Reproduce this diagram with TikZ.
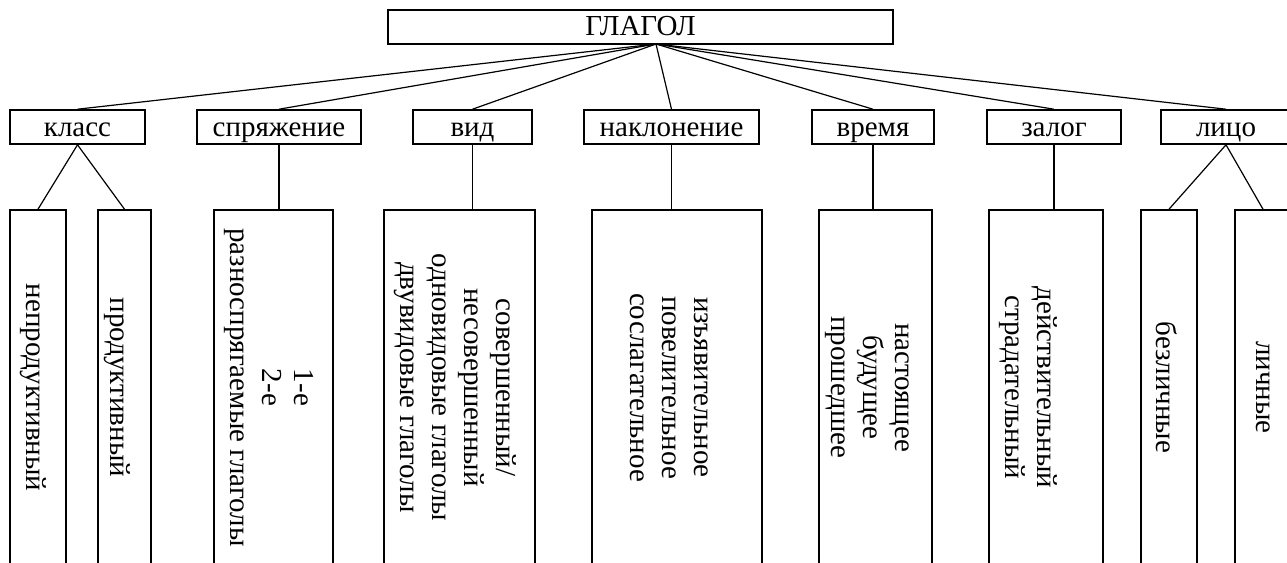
\documentclass[tikz,border=0pt]{standalone}
\usepackage{fontspec}
\setmainfont{Liberation Serif}
\usetikzlibrary{calc}

\begin{document}
\begin{tikzpicture}[
    x=0.5pt, y=-0.5pt,
    font=\fontsize{14.5}{16}\selectfont,
    root/.style={rectangle, draw, line width=0.8pt, minimum width=252.5pt, minimum height=17pt, inner sep=0pt, text height=10.5pt, text depth=2.5pt},
    category/.style={rectangle, draw, line width=0.8pt, minimum height=17pt, inner sep=0pt, text height=11pt, text depth=2pt},
    leaf/.style={rectangle, draw, line width=0.8pt, minimum height=177.5pt, inner sep=0pt},
    leaftext/.style={rotate=-90, align=center, inner sep=0pt},
    link/.style={line width=0.6pt}
]
\clip (0,0) rectangle (1287,563);

% Root
\node[root] (glagol) at (640.5,27) {ГЛАГОЛ};
\coordinate (hub) at (656,44);

% Categories
\node[category, minimum width=67.5pt] (klass) at (77.5,127) {класс};
\node[category, minimum width=82pt] (sprjazh) at (279,127) {спряжение};
\node[category, minimum width=59.5pt] (vid) at (472.5,127) {вид};
\node[category, minimum width=87.5pt] (naklon) at (671.5,127) {наклонение};
\node[category, minimum width=61pt] (vremja) at (873,127) {время};
\node[category, minimum width=67pt] (zalog) at (1054,127) {залог};
\node[category, minimum width=65pt] (lico) at (1226,127) {лицо};

% Leaves
\node[leaf, minimum width=28pt] (neprod) at (38,387.5) {};
\node[leaf, minimum width=26.5pt] (prod) at (124.5,387.5) {};
\node[leaf, minimum width=59.5pt] (sprleaf) at (273.5,387.5) {};
\node[leaf, minimum width=75.5pt] (vidleaf) at (459.5,387.5) {};
\node[leaf, minimum width=85pt] (naklleaf) at (677,387.5) {};
\node[leaf, minimum width=56.5pt] (vremleaf) at (875.5,387.5) {};
\node[leaf, minimum width=57pt] (zalleaf) at (1046,387.5) {};
\node[leaf, minimum width=28pt] (bezl) at (1169,387.5) {};
\node[leaf, minimum width=28pt] (lichn) at (1263,387.5) {};

% Leaf texts
\node[leaftext] (neprodT) at ($(neprod.center)+(-5,0)$) {непродуктивный};
\node[leaftext] (prodT) at ($(prod.center)+(-7,0)$) {продуктивный};
\node[leaftext] (sprT) at ($(sprleaf.center)+(-5,0)$) {1-е\\2-е\\разноспрягаемые глаголы};
\node[leaftext] (vidT) at ($(vidleaf.center)+(-4,0)$) {совершенный/\\несовершенный\\одновидовые глаголы\\двувидовые глаголы};
\node[leaftext] (naklT) at ($(naklleaf.center)+(-8,0)$) {изъявительное\\повелительное\\сослагательное};
\node[leaftext] (vremT) at ($(vremleaf.center)+(-8,0)$) {настоящее\\будущее\\прошедшее};
\node[leaftext] (zalT) at ($(zalleaf.center)+(-18,0)$) {действительный\\страдательный};
\node[leaftext] (bezlT) at ($(bezl.center)+(-2,0)$) {безличные};
\node[leaftext] (lichnT) at (lichn.center) {личные};

% Root to categories
\foreach \c in {klass, sprjazh, vid, naklon, vremja, zalog, lico}
    \draw[link] (hub) -- (\c.north);

% Categories to leaves
\draw[link] (klass.south) -- (neprod.north);
\draw[link] (klass.south) -- (prod.north);
\draw[link] (sprjazh.south) -- (sprjazh.south |- sprleaf.north);
\draw[link] (vid.south) -- (vid.south |- vidleaf.north);
\draw[link] (naklon.south) -- (naklon.south |- naklleaf.north);
\draw[link] (vremja.south) -- (vremja.south |- vremleaf.north);
\draw[link] (zalog.south) -- (zalog.south |- zalleaf.north);
\draw[link] (lico.south) -- (bezl.north);
\draw[link] (lico.south) -- (lichn.north);

\end{tikzpicture}
\end{document}
